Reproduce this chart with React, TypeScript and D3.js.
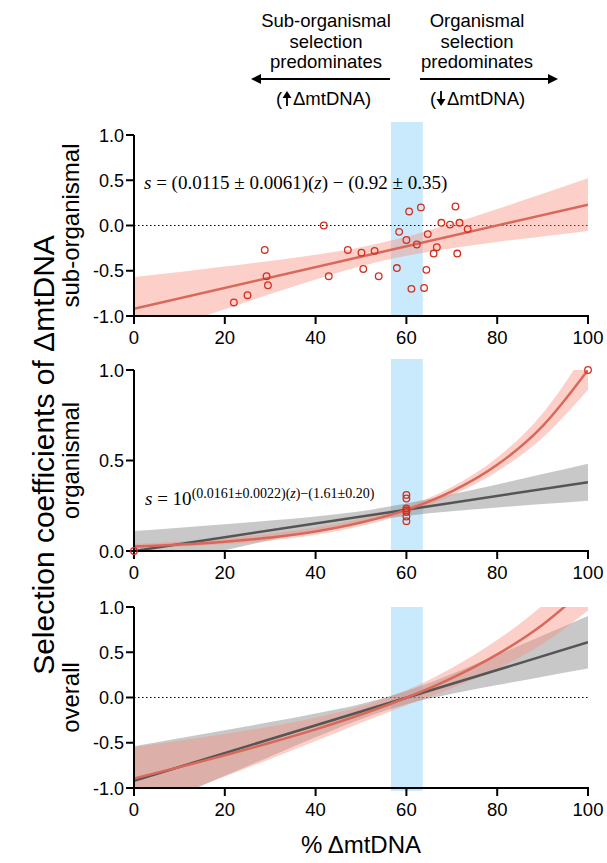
import React from "react";
import * as d3 from "d3";

// ---------- data ----------
const xTicks = [0, 20, 40, 60, 80, 100];
const yTicksSigned = [-1, -0.5, 0, 0.5, 1];
const yTicksOrg = [0, 0.5, 1];
const highlightRange = [56.6, 63.6];
const gridZ = [0, 10, 20, 30, 40, 50, 60, 70, 80, 90, 100];

// panel 1: sub-organismal
const subPointsZ = [22.0, 25.0, 28.8, 29.2, 29.5, 41.8, 42.9, 47.1, 50.1, 50.5, 53.0, 53.9, 57.9, 58.4, 60.0, 60.6, 61.1, 62.3, 63.2, 63.9, 64.4, 64.7, 66.0, 66.7, 67.7, 69.6, 70.8, 71.2, 71.7, 73.5];
const subPointsS = [-0.85, -0.77, -0.27, -0.56, -0.66, 0.0, -0.56, -0.27, -0.3, -0.48, -0.28, -0.56, -0.47, -0.07, -0.16, 0.155, -0.7, -0.21, 0.2, -0.69, -0.49, -0.095, -0.31, -0.24, 0.03, 0.01, 0.21, -0.31, 0.03, -0.04];
const subFitZ = [0, 100];
const subFitS = [-0.92, 0.23];
const subBandLo = [-1.27, -1.097, -0.926, -0.757, -0.596, -0.45, -0.335, -0.251, -0.182, -0.121, -0.062];
const subBandHi = [-0.57, -0.513, -0.454, -0.393, -0.324, -0.24, -0.125, 0.021, 0.182, 0.351, 0.522];

// panel 2: organismal
const orgPointsZ = [0, 60, 60, 60, 60, 60, 60, 60, 100];
const orgPointsS = [0.0, 0.31, 0.29, 0.235, 0.225, 0.215, 0.19, 0.165, 1.0];
const orgExpS = [0.0245, 0.0356, 0.0515, 0.0746, 0.108, 0.157, 0.227, 0.329, 0.476, 0.69, 1.0];
const orgExpLo = [0.0155, 0.0241, 0.0373, 0.0579, 0.0899, 0.138, 0.209, 0.307, 0.439, 0.626, 0.891];
const orgExpHi = [0.0388, 0.0527, 0.0711, 0.0961, 0.13, 0.178, 0.246, 0.353, 0.516, 0.76, 1.122];
const orgLinZ = [0, 100];
const orgLinS = [0.0, 0.38];
const orgLinLo = [-0.11, -0.053, 0.004, 0.06, 0.113, 0.16, 0.194, 0.219, 0.24, 0.259, 0.278];
const orgLinHi = [0.11, 0.129, 0.148, 0.168, 0.191, 0.22, 0.262, 0.313, 0.368, 0.425, 0.482];

// panel 3: overall
const allExpS = [-0.896, -0.769, -0.639, -0.5, -0.352, -0.188, -0.003, 0.214, 0.476, 0.805, 1.23];
const allExpLo = [-1.246, -1.061, -0.874, -0.68, -0.481, -0.278, -0.085, 0.103, 0.317, 0.592, 0.961];
const allExpHi = [-0.546, -0.477, -0.404, -0.32, -0.223, -0.098, 0.079, 0.325, 0.635, 1.018, 1.499];
const allLinZ = [0, 100];
const allLinS = [-0.92, 0.61];
const allLinLo = [-1.3, -1.083, -0.866, -0.651, -0.44, -0.239, -0.075, 0.041, 0.138, 0.23, 0.32];
const allLinHi = [-0.54, -0.451, -0.362, -0.271, -0.176, -0.071, 0.071, 0.261, 0.47, 0.684, 0.9];

// ---------- style ----------
const SANS = "'Liberation Sans', Arial, sans-serif";
const SERIF = "'Liberation Serif', 'DejaVu Serif', serif";
const RED_LINE = "#d9685a";
const RED_BAND = "rgba(247,140,125,0.42)";
const GRAY_BAND = "rgba(125,125,125,0.42)";
const GRAY_LINE = "#555555";
const BLUE = "#c9eafc";
const DOT = "#d22f1f";

const W = 607;
const H = 863;
const X0 = 134;
const X1 = 588;
const x = d3.scaleLinear().domain([0, 100]).range([X0, X1]);
const fmt = (v: number) => (v < 0 ? "-" : "") + Math.abs(v).toFixed(1);

type PanelProps = {
  id: string;
  domain: [number, number];
  range: [number, number];
  ticks: number[];
  blueTop: number;
  blueBottom: number;
  label: string;
  zeroLine: boolean;
  children: (y: d3.ScaleLinear<number, number>) => React.ReactNode;
};

function Panel({ id, domain, range, ticks, blueTop, blueBottom, label, zeroLine, children }: PanelProps) {
  const y = d3.scaleLinear().domain(domain).range(range);
  const yb = range[0];
  const yt = range[1];
  return (
    <g>
      <defs>
        <clipPath id={id}>
          <rect x={X0} y={yt} width={X1 - X0} height={yb - yt} />
        </clipPath>
      </defs>
      <rect
        x={x(highlightRange[0])}
        y={blueTop}
        width={x(highlightRange[1]) - x(highlightRange[0])}
        height={blueBottom - blueTop}
        fill={BLUE}
      />
      {zeroLine && (
        <line x1={X0} x2={X1} y1={y(0)} y2={y(0)} stroke="#000" strokeWidth={1.2} strokeDasharray="1.5,2.5" />
      )}
      <g clipPath={`url(#${id})`}>{children(y)}</g>
      {/* y axis */}
      <line x1={X0} x2={X0} y1={yt} y2={yb + 1} stroke="#000" strokeWidth={2} />
      {ticks.map((t) => (
        <g key={t}>
          <line x1={X0 - 8} x2={X0} y1={y(t)} y2={y(t)} stroke="#000" strokeWidth={2} />
          <text x={X0 - 10} y={y(t) + 6.5} textAnchor="end" fontFamily={SANS} fontSize={18}>
            {fmt(t)}
          </text>
        </g>
      ))}
      {/* x axis */}
      <line x1={X0 - 1} x2={X1 + 1} y1={yb} y2={yb} stroke="#000" strokeWidth={2} />
      {xTicks.map((t) => (
        <g key={t}>
          <line x1={x(t)} x2={x(t)} y1={yb} y2={yb + 8} stroke="#000" strokeWidth={2} />
          <text x={x(t)} y={yb + 28} textAnchor="middle" fontFamily={SANS} fontSize={18.5}>
            {t}
          </text>
        </g>
      ))}
      <text
        transform={`translate(79,${(yt + yb) / 2}) rotate(-90)`}
        textAnchor="middle"
        fontFamily={SANS}
        fontSize={24}
      >
        {label}
      </text>
    </g>
  );
}

function bandPath(y: d3.ScaleLinear<number, number>, lo: number[], hi: number[]) {
  const a = d3
    .area<number>()
    .x((_, i) => x(gridZ[i]))
    .y0((_, i) => y(lo[i]))
    .y1((_, i) => y(hi[i]))
    .curve(d3.curveMonotoneX);
  return a(gridZ) || "";
}

function linePath(y: d3.ScaleLinear<number, number>, zs: number[], ss: number[]) {
  const l = d3
    .line<number>()
    .x((_, i) => x(zs[i]))
    .y((_, i) => y(ss[i]))
    .curve(d3.curveMonotoneX);
  return l(zs) || "";
}

function Arrow({ x1, x2, yy }: { x1: number; x2: number; yy: number }) {
  const dir = Math.sign(x2 - x1);
  const headLen = 10;
  const base = x2 - dir * headLen;
  return (
    <g>
      <line x1={x1} x2={base} y1={yy} y2={yy} stroke="#000" strokeWidth={2} />
      <path d={`M${x2},${yy} L${base},${yy - 5} L${base},${yy + 5} Z`} fill="#000" />
    </g>
  );
}

function SmallArrow({ cx, yTop, up }: { cx: number; yTop: number; up: boolean }) {
  // vertical arrow glyph inside the parenthesis
  const len = 15;
  const yA = up ? yTop : yTop + len;
  const yB = up ? yTop + len : yTop;
  const d = up ? 1 : -1;
  return (
    <g>
      <line x1={cx} x2={cx} y1={yA + d * 5} y2={yB} stroke="#000" strokeWidth={1.8} />
      <path d={`M${cx},${yA} L${cx - 4.5},${yA + d * 7} L${cx + 4.5},${yA + d * 7} Z`} fill="#000" />
    </g>
  );
}

export default function App() {
  return (
    <svg width={W} height={H} viewBox={`0 0 ${W} ${H}`} style={{ display: "block", position: "absolute", left: 0, top: 0, background: "#fff" }}>
      <rect width={W} height={H} fill="#fff" />

      {/* top annotations */}
      <g fontFamily={SANS} fontSize={18.5} textAnchor="middle">
        <text x={326} y={27}>Sub-organismal</text>
        <text x={326} y={48}>selection</text>
        <text x={326} y={68}>predominates</text>
        <text x={477} y={27}>Organismal</text>
        <text x={477} y={48}>selection</text>
        <text x={477} y={68}>predominates</text>
      </g>
      <g fontFamily={SANS} fontSize={18.5}>
        <text x={276} y={105}>(</text>
        <text x={293} y={105}>ΔmtDNA)</text>
        <text x={430} y={105}>(</text>
        <text x={447} y={105}>ΔmtDNA)</text>
      </g>
      <SmallArrow cx={287} yTop={91} up />
      <SmallArrow cx={441} yTop={91} up={false} />
      <Arrow x1={390} x2={251} yy={79} />
      <Arrow x1={420} x2={558} yy={79} />

      {/* panel 1 */}
      <Panel id="clip1" domain={[-1, 1]} range={[316, 135]} ticks={yTicksSigned} blueTop={122} blueBottom={316} label="sub-organismal" zeroLine>
        {(y) => (
          <g>
            <path d={bandPath(y, subBandLo, subBandHi)} fill={RED_BAND} />
            <path d={linePath(y, subFitZ, subFitS)} fill="none" stroke={RED_LINE} strokeWidth={2.5} />
          </g>
        )}
      </Panel>
      {subPointsZ.map((z, i) => {
        const y = d3.scaleLinear().domain([-1, 1]).range([316, 135]);
        return <circle key={i} cx={x(z)} cy={y(subPointsS[i])} r={3.3} fill="none" stroke={DOT} strokeWidth={1.3} />;
      })}
      <text x={144} y={189} fontFamily={SERIF} fontSize={19}>
        <tspan fontStyle="italic">s</tspan> = (0.0115 ± 0.0061)(<tspan fontStyle="italic">z</tspan>) − (0.92 ± 0.35)
      </text>

      {/* panel 2 */}
      <Panel id="clip2" domain={[0, 1]} range={[551, 370]} ticks={yTicksOrg} blueTop={359} blueBottom={551} label="organismal" zeroLine={false}>
        {(y) => (
          <g>
            <path d={bandPath(y, orgLinLo, orgLinHi)} fill={GRAY_BAND} />
            <path d={bandPath(y, orgExpLo, orgExpHi)} fill={RED_BAND} />
            <path d={linePath(y, orgLinZ, orgLinS)} fill="none" stroke={GRAY_LINE} strokeWidth={2.5} />
            <path d={linePath(y, gridZ, orgExpS)} fill="none" stroke={RED_LINE} strokeWidth={2.5} />
          </g>
        )}
      </Panel>
      {orgPointsZ.map((z, i) => {
        const y = d3.scaleLinear().domain([0, 1]).range([551, 370]);
        return <circle key={i} cx={x(z)} cy={y(orgPointsS[i])} r={3.3} fill="none" stroke={DOT} strokeWidth={1.3} />;
      })}
      <text x={145} y={505} fontFamily={SERIF} fontSize={19}>
        <tspan fontStyle="italic">s</tspan> = 10
        <tspan fontSize={14} dy={-7}>
          (0.0161±0.0022)(<tspan fontStyle="italic">z</tspan>)−(1.61±0.20)
        </tspan>
      </text>

      {/* panel 3 */}
      <Panel id="clip3" domain={[-1, 1]} range={[788, 607]} ticks={yTicksSigned} blueTop={607} blueBottom={791} label="overall" zeroLine>
        {(y) => (
          <g>
            <path d={bandPath(y, allLinLo, allLinHi)} fill={GRAY_BAND} />
            <path d={bandPath(y, allExpLo, allExpHi)} fill={RED_BAND} />
            <path d={linePath(y, allLinZ, allLinS)} fill="none" stroke={GRAY_LINE} strokeWidth={2.5} />
            <path d={linePath(y, gridZ, allExpS)} fill="none" stroke={RED_LINE} strokeWidth={2.5} />
          </g>
        )}
      </Panel>

      {/* axis titles */}
      <text x={361} y={853} textAnchor="middle" fontFamily={SANS} fontSize={24}>
        % ΔmtDNA
      </text>
      <text transform="translate(54,455) rotate(-90)" textAnchor="middle" fontFamily={SANS} fontSize={30}>
        Selection coefficients of ΔmtDNA
      </text>
    </svg>
  );
}
